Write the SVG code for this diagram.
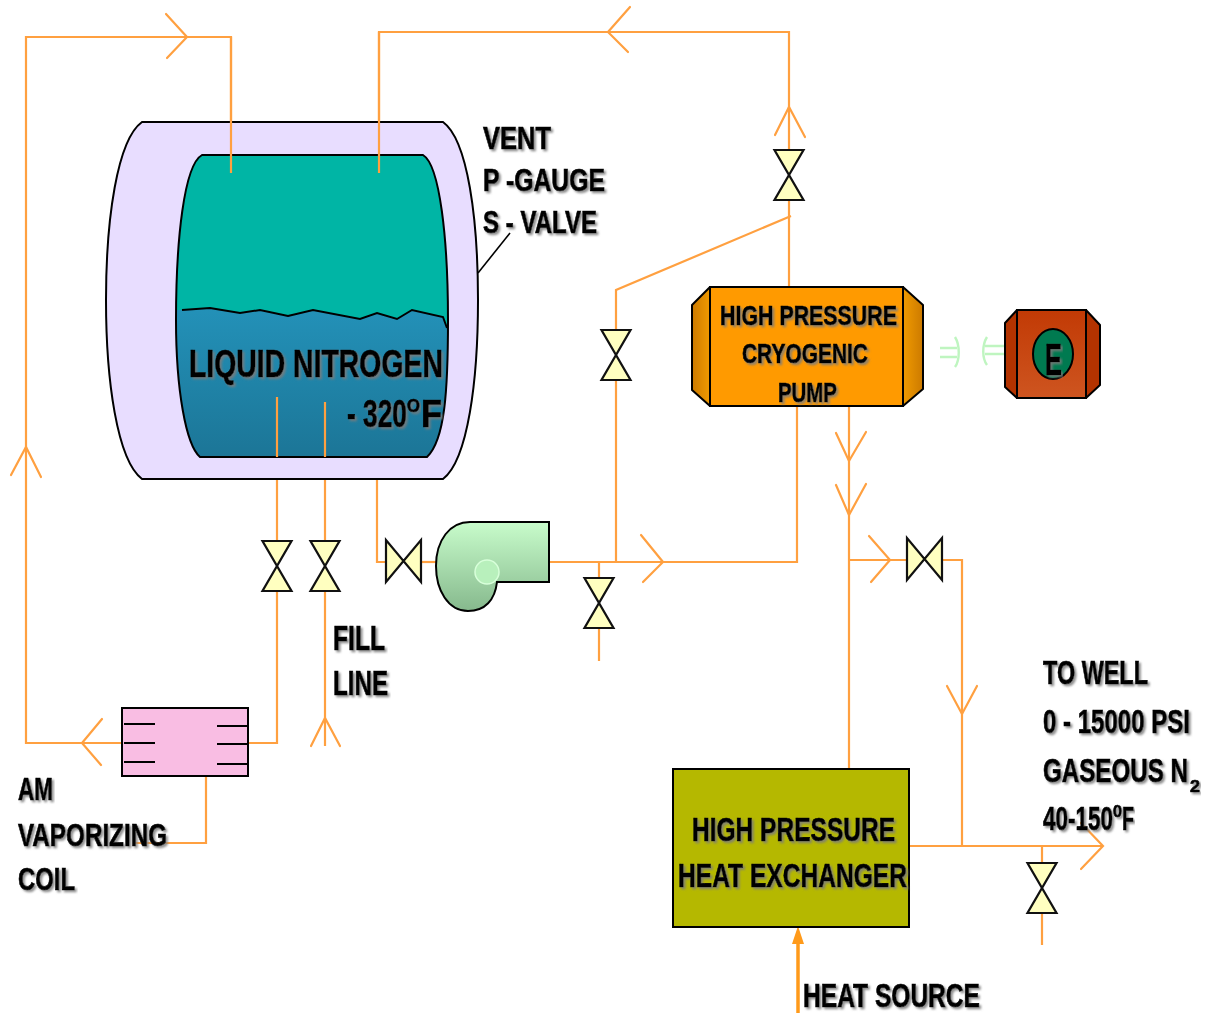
<svg xmlns="http://www.w3.org/2000/svg" width="1210" height="1013" viewBox="0 0 1210 1013">
  <defs>
    <style>
      .pipe{fill:none;stroke:#FFA040;stroke-width:2.2;stroke-linejoin:miter}
      .arr{fill:none;stroke:#FFA040;stroke-width:2.2;stroke-linecap:round;stroke-linejoin:miter}
      .valve{fill:#FFFFC0;stroke:#111;stroke-width:2.2;stroke-linejoin:miter}
      .t{font-family:"Liberation Sans",Arial,sans-serif;font-weight:bold;fill:#000;stroke:#000;stroke-width:0.7;filter:url(#sh)}
      .cpl{fill:none;stroke:#BFF5C0;stroke-width:2.4}
    </style>
    <filter id="sh" x="-5%" y="-20%" width="110%" height="150%">
      <feDropShadow dx="2" dy="2" stdDeviation="0.9" flood-color="#7a7a7a" flood-opacity="0.85"/>
    </filter>
    <linearGradient id="liq" x1="0" y1="0" x2="0" y2="1">
      <stop offset="0" stop-color="#2391B8"/>
      <stop offset="1" stop-color="#1B7394"/>
    </linearGradient>
    <linearGradient id="blow" x1="0" y1="0" x2="0" y2="1">
      <stop offset="0" stop-color="#C8FCCB"/>
      <stop offset="1" stop-color="#86B98D"/>
    </linearGradient>
    <linearGradient id="capL" x1="0" y1="0" x2="1" y2="0">
      <stop offset="0" stop-color="#CC7A00"/>
      <stop offset="1" stop-color="#F09A00"/>
    </linearGradient>
    <linearGradient id="capR" x1="0" y1="0" x2="1" y2="0">
      <stop offset="0" stop-color="#F09A00"/>
      <stop offset="1" stop-color="#CC7A00"/>
    </linearGradient>
    <linearGradient id="mot" x1="0" y1="0" x2="0" y2="1">
      <stop offset="0" stop-color="#C23A05"/>
      <stop offset="1" stop-color="#CE5520"/>
    </linearGradient>
    <clipPath id="innerClip">
      <path d="M202,155 H423 C440,165 448,240 448,320 C448,390 445,440 427,457 H200 C186,445 176,390 176,320 C176,240 184,165 202,155 Z"/>
    </clipPath>
    <path id="vv" class="valve" d="M-14.5,-25 H14.5 L-14.5,25 H14.5 Z"/>
    <path id="vh" class="valve" d="M-17.5,-21 V21 L17.5,-21 V21 Z"/>
  </defs>

  <rect width="1210" height="1013" fill="#fff"/>

  <!-- connectors -->
  <g id="connectors">
    <path class="pipe" d="M122,743 H26 V37 H231 V173"/>
    <path class="pipe" d="M379,173 V32 H789 V150"/>
    <path class="pipe" d="M789,200 V287"/>
    <path class="pipe" d="M791,216 L616,290 V329"/>
    <path class="pipe" d="M616,380 V562"/>
    <path class="pipe" d="M277,397 V541"/>
    <path class="pipe" d="M277,591 V743 H248"/>
    <path class="pipe" d="M325,402 V541"/>
    <path class="pipe" d="M325,591 V746"/>
    <path class="pipe" d="M377,479 V562 H386"/>
    <path class="pipe" d="M421,562 H437"/>
    <path class="pipe" d="M549,562 H797 V406"/>
    <path class="pipe" d="M599,562 V579"/>
    <path class="pipe" d="M599,628 V661"/>
    <path class="pipe" d="M849,406 V769"/>
    <path class="pipe" d="M849,560 H907"/>
    <path class="pipe" d="M942,560 H962 V846"/>
    <path class="pipe" d="M909,846 H1103"/>
    <path class="pipe" d="M1042,846 V862"/>
    <path class="pipe" d="M1042,913 V945"/>
    <path class="pipe" d="M206,776 V843 H133"/>
    <!-- heat source feed -->
    <path d="M798,1013 V940" fill="none" stroke="#FF9A1A" stroke-width="3.5"/>
    <path d="M798,926 L804,944 H792 Z" fill="#FF9A1A"/>
    <!-- flow chevrons -->
    <path class="arr" d="M166,14 L187,37 L167,58"/>
    <path class="arr" d="M11,475 L26,447 L41,477"/>
    <path class="arr" d="M102,719 L82,743 L101,765"/>
    <path class="arr" d="M630,7 L608,32 L628,52"/>
    <path class="arr" d="M775,135 L789,107 L805,137"/>
    <path class="arr" d="M641,535 L663,562 L643,582"/>
    <path class="arr" d="M836,433 L849,461 L866,432"/>
    <path class="arr" d="M836,485 L849,515 L866,484"/>
    <path class="arr" d="M869,536 L890,560 L871,582"/>
    <path class="arr" d="M947,686 L962,714 L977,686"/>
    <path class="arr" d="M1081,823 L1103,846 L1081,869"/>
    <path class="arr" d="M311,746 L325,718 L340,746"/>
    <!-- gauge pointer -->
    <path d="M478,273 L510,233" stroke="#000" stroke-width="1.6" fill="none"/>
  </g>

  <!-- storage tank -->
  <g id="tank">
    <path d="M142,122 H443 C468,140 478,220 478,300 C478,380 468,460 443,479 H142 C117,460 106,380 106,300 C106,220 117,140 142,122 Z" fill="#E8DDFF" stroke="#000" stroke-width="2"/>
    <path d="M202,155 H423 C440,165 448,240 448,320 C448,390 445,440 427,457 H200 C186,445 176,390 176,320 C176,240 184,165 202,155 Z" fill="#00B5A5"/>
    <path clip-path="url(#innerClip)" fill="url(#liq)" d="M160,310 L182,310 L210,308 L240,313 L260,310 L288,316 L313,310 L360,319 L377,313 L397,319 L412,310 L443,317 L447,328 L470,328 L470,470 L160,470 Z"/>
    <path d="M182,310 L210,308 L240,313 L260,310 L288,316 L313,310 L360,319 L377,313 L397,319 L412,310 L443,317 L447,328" fill="none" stroke="#000" stroke-width="2"/>
    <path d="M202,155 H423 C440,165 448,240 448,320 C448,390 445,440 427,457 H200 C186,445 176,390 176,320 C176,240 184,165 202,155 Z" fill="none" stroke="#000" stroke-width="2"/>
    <path class="pipe" d="M231,37 V173 M379,32 V173 M277,397 V457 M325,402 V457"/>
    <text class="t" x="189" y="377" font-size="38" textLength="254" lengthAdjust="spacingAndGlyphs">LIQUID NITROGEN</text>
    <text class="t" x="347" y="427" font-size="38" textLength="60" lengthAdjust="spacingAndGlyphs">- 320</text>
    <text class="t" x="407" y="412" font-size="18" textLength="13" lengthAdjust="spacingAndGlyphs">O</text>
    <text class="t" x="421" y="427" font-size="38" textLength="21" lengthAdjust="spacingAndGlyphs">F</text>
  </g>

  <!-- valves -->
  <g id="valves">
    <use href="#vv" x="277" y="566"/>
    <use href="#vv" x="325" y="566"/>
    <use href="#vv" x="789" y="175"/>
    <use href="#vv" x="616" y="355"/>
    <use href="#vv" x="599" y="603"/>
    <use href="#vv" x="1042" y="888"/>
    <use href="#vh" x="403.5" y="561"/>
    <use href="#vh" x="924.5" y="559"/>
  </g>

  <!-- transfer blower -->
  <g id="blower">
    <path d="M470,522 H549 V582 H497 C495,600 485,611 468,611 C448,611 436,590 436,566 C436,540 450,522 470,522 Z" fill="url(#blow)" stroke="#000" stroke-width="2"/>
    <circle cx="487" cy="572" r="12" fill="#B8F0BC" stroke="#D8FFDA" stroke-width="1.5"/>
  </g>

  <!-- cryogenic pump -->
  <g id="pump">
    <path d="M710,287 L692,305 V390 L710,406 Z" fill="url(#capL)" stroke="#000" stroke-width="2" stroke-linejoin="round"/>
    <path d="M903,287 L923,305 V389 L903,406 Z" fill="url(#capR)" stroke="#000" stroke-width="2" stroke-linejoin="round"/>
    <rect x="710" y="287" width="193" height="119" fill="#FF9A00" stroke="#000" stroke-width="2"/>
    <text class="t" x="720" y="325" font-size="28" textLength="177" lengthAdjust="spacingAndGlyphs">HIGH PRESSURE</text>
    <text class="t" x="742" y="363" font-size="28" textLength="126" lengthAdjust="spacingAndGlyphs">CRYOGENIC</text>
    <text class="t" x="778" y="402" font-size="28" textLength="59" lengthAdjust="spacingAndGlyphs">PUMP</text>
  </g>

  <!-- shaft coupling -->
  <g id="coupling">
    <path class="cpl" d="M940,348 H957 M940,357 H957 M955,337 C960,345 960,360 955,367"/>
    <path class="cpl" d="M987,337 C982,345 982,358 987,365 M985,346 H1005 M985,354 H1005"/>
  </g>

  <!-- engine -->
  <g id="engine">
    <path d="M1017,310 L1005,323 V387 L1017,398 Z" fill="#B33300" stroke="#000" stroke-width="2" stroke-linejoin="round"/>
    <path d="M1086,310 L1100,325 V385 L1086,398 Z" fill="#B33300" stroke="#000" stroke-width="2" stroke-linejoin="round"/>
    <rect x="1017" y="310" width="69" height="88" fill="url(#mot)" stroke="#000" stroke-width="2"/>
    <ellipse cx="1053" cy="354" rx="20" ry="25" fill="#007A50" stroke="#000" stroke-width="2"/>
    <text class="t" x="1045" y="375" font-size="45" textLength="17" lengthAdjust="spacingAndGlyphs">E</text>
  </g>

  <!-- vaporizing coil -->
  <g id="vaporizer">
    <rect x="122" y="708" width="126" height="68" fill="#F9BDE3" stroke="#000" stroke-width="2"/>
    <path d="M124,724 H155 M124,743 H155 M124,762 H155 M217,726 H248 M217,744 H248 M217,764 H248" stroke="#000" stroke-width="2.2"/>
  </g>

  <!-- heat exchanger -->
  <g id="heatExchanger">
    <rect x="673" y="769" width="236" height="158" fill="#B5B800" stroke="#000" stroke-width="2"/>
    <text class="t" x="692" y="841" font-size="34" textLength="203" lengthAdjust="spacingAndGlyphs">HIGH PRESSURE</text>
    <text class="t" x="678" y="887" font-size="34" textLength="229" lengthAdjust="spacingAndGlyphs">HEAT EXCHANGER</text>
  </g>

  <!-- labels -->
  <g id="labels">
    <text class="t" x="483" y="149" font-size="31" textLength="68" lengthAdjust="spacingAndGlyphs">VENT</text>
    <text class="t" x="483" y="191" font-size="31" textLength="122" lengthAdjust="spacingAndGlyphs">P -GAUGE</text>
    <text class="t" x="483" y="233" font-size="31" textLength="114" lengthAdjust="spacingAndGlyphs">S - VALVE</text>
    <text class="t" x="333" y="650" font-size="35" textLength="52" lengthAdjust="spacingAndGlyphs">FILL</text>
    <text class="t" x="333" y="695" font-size="35" textLength="55" lengthAdjust="spacingAndGlyphs">LINE</text>
    <text class="t" x="18" y="800" font-size="31" textLength="35" lengthAdjust="spacingAndGlyphs">AM</text>
    <text class="t" x="18" y="846" font-size="31" textLength="149" lengthAdjust="spacingAndGlyphs">VAPORIZING</text>
    <text class="t" x="18" y="890" font-size="31" textLength="57" lengthAdjust="spacingAndGlyphs">COIL</text>
    <text class="t" x="803" y="1007" font-size="33" textLength="177" lengthAdjust="spacingAndGlyphs">HEAT SOURCE</text>
    <text class="t" x="1043" y="684" font-size="34" textLength="105" lengthAdjust="spacingAndGlyphs">TO WELL</text>
    <text class="t" x="1043" y="733" font-size="34" textLength="147" lengthAdjust="spacingAndGlyphs">0 - 15000 PSI</text>
    <text class="t" x="1043" y="782" font-size="34" textLength="145" lengthAdjust="spacingAndGlyphs">GASEOUS N</text>
    <text class="t" x="1190" y="792" font-size="17" textLength="10" lengthAdjust="spacingAndGlyphs">2</text>
    <text class="t" x="1043" y="830" font-size="34" textLength="70" lengthAdjust="spacingAndGlyphs">40-150</text>
    <text class="t" x="1113" y="817" font-size="17" textLength="9" lengthAdjust="spacingAndGlyphs">0</text>
    <text class="t" x="1122" y="830" font-size="34" textLength="12" lengthAdjust="spacingAndGlyphs">F</text>
  </g>
</svg>
